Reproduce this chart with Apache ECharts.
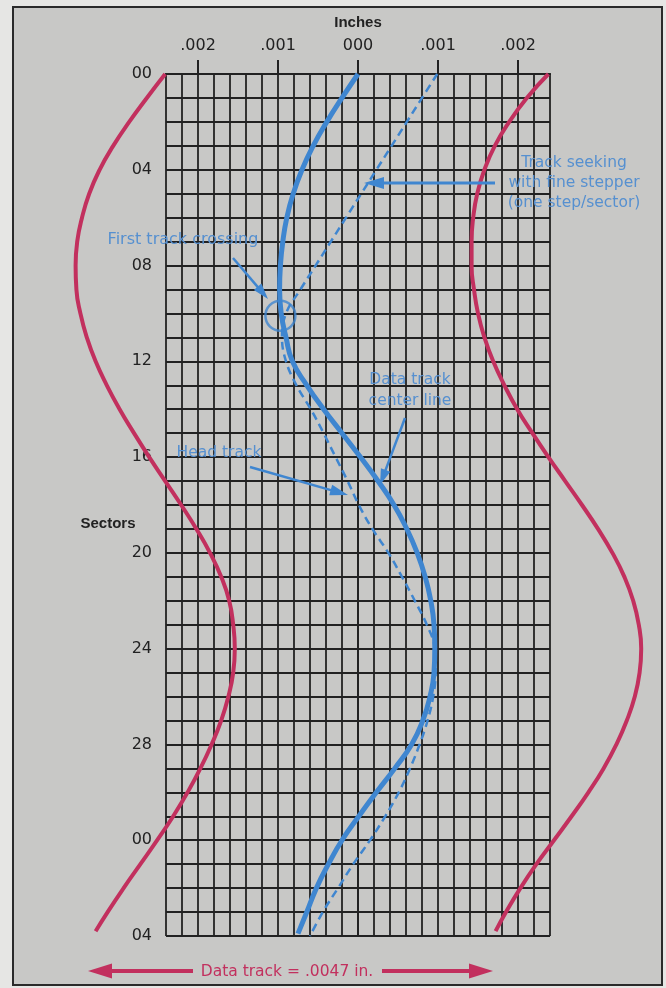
<!DOCTYPE html>
<html><head><meta charset="utf-8">
<script src="https://cdn.jsdelivr.net/npm/echarts@6/dist/echarts.min.js"></script>
<style>
html,body{margin:0;padding:0;background:#e6e6e4;}
#frame{position:absolute;left:12px;top:6px;width:647px;height:976px;border:2px solid #2a2a2a;background:#c8c8c6;}
#c{position:absolute;left:0;top:0;width:666px;height:988px;}
</style>
</head><body><div id="frame"></div><div id="c"></div>
<script>
// Offsets are in units of 0.0001 inch; rows are sectors (32 sectors per revolution).
const edgeSectors = [0,1,2,3,4,5,6,7,8,9,10,11,12,13,14,15,16,17,18,19,20,21,22,23,24,25,26,27,28,29,30,31,32,33,34,35,35.8];
const leftEdge  = [-24.1,-26.4,-28.6,-30.6,-32.3,-33.6,-34.5,-35.1,-35.3,-35.2,-34.7,-33.9,-32.8,-31.4,-29.8,-28.0,-26.1,-24.1,-22.1,-20.2,-18.5,-17.1,-16.1,-15.6,-15.4,-15.6,-16.2,-17.1,-18.3,-19.7,-21.3,-23.1,-25.1,-27.2,-29.3,-31.3,-32.8];
const rightEdge = [23.8,21.1,18.9,17.1,15.8,14.9,14.4,14.2,14.2,14.5,15.0,15.8,16.9,18.3,19.9,21.8,23.8,25.9,28.0,30.0,31.8,33.3,34.4,35.1,35.4,35.2,34.6,33.6,32.3,30.7,28.8,26.7,24.5,22.3,20.3,18.5,17.2];
const trackSectors = [0,1,2,3,4,5,6,7,8,9,10,11,12,13,14,15,16,17,18,19,20,21,22,23,24,25,26,27,28,29,30,31,32,33,34,35,35.9];
const centerLine = [0,-2.0,-3.9,-5.6,-7.0,-8.1,-8.9,-9.4,-9.7,-9.8,-9.6,-9.0,-8.2,-6.4,-4.3,-2.0,0.3,2.5,4.5,6.1,7.4,8.4,9.1,9.5,9.6,9.5,9.0,8.1,6.7,4.6,2.3,0.1,-2.0,-3.7,-5.2,-6.4,-7.5];
const headSectors = [0,1,2,3,4,5,6,7,8,9,10,11,12,13,14,15,16,17,18,19,20,21,22,23,24,25,26,27,28,29,30,31,32,33,34,35,36];
const headTrack = [9.9,8.0,6.1,4.2,2.3,0.4,-1.5,-3.4,-5.3,-7.2,-9.0,-9.5,-9.0,-7.7,-5.9,-4.3,-2.8,-1.3,0.1,1.8,3.8,5.5,7.1,8.6,9.6,9.7,9.4,8.7,7.7,6.5,5.1,3.4,1.5,-0.6,-2.5,-4.4,-6.0];
const crossing = [[-9.7, 10.1]];
const xTickValues = [-20,-10,0,10,20];
const xTickLabels = ['.002','.001','000','.001','.002'];
const yTickValues = [0,4,8,12,16,20,24,28,32,36];
const yTickLabels = ['00','04','08','12','16','20','24','28','00','04'];

const RED = '#c2305e', BLUE = '#3f86d0', BTXT = '#5690d0', INK = '#222';
const FONT = '"Liberation Sans", Arial, sans-serif';
const WFONT = '"DejaVu Sans", sans-serif';
const pairs = (xs, ss) => xs.map((v, i) => [v, ss[i]]);

const chart = echarts.init(document.getElementById('c'), null, {renderer: 'canvas'});
const paper = {left: 166, right: 116, top: 74, bottom: 52, containLabel: false};
const frameLine = {show: true, lineStyle: {color: INK, width: 2}};
const off = {show: false};
chart.setOption({
  backgroundColor: 'transparent',
  animation: false,
  grid: [paper, {left: 54, right: 4, top: 74, bottom: 52, containLabel: false}, paper],
  xAxis: [
    {gridIndex: 0, type: 'value', position: 'top', min: -24, max: 24, interval: 2,
      axisLine: frameLine, axisTick: off, axisLabel: off,
      splitLine: {show: true, lineStyle: {color: INK, width: 1.8}}},
    {gridIndex: 0, type: 'value', position: 'bottom', min: -24, max: 24,
      axisLine: frameLine, axisTick: off, axisLabel: off, splitLine: off},
    {gridIndex: 1, type: 'value', min: -38, max: 38, show: false},
    {gridIndex: 2, type: 'value', position: 'top', min: -24, max: 24,
      name: 'Inches', nameLocation: 'middle', nameGap: 44,
      nameTextStyle: {fontFamily: FONT, fontWeight: 'bold', fontSize: 15, color: INK},
      axisLine: off, splitLine: off,
      axisTick: {show: true, customValues: xTickValues, length: 14, lineStyle: {color: INK, width: 2}},
      axisLabel: {customValues: xTickValues, margin: 20, fontFamily: WFONT, fontSize: 16, color: INK,
        formatter: v => xTickLabels[xTickValues.indexOf(v)]}}
  ],
  yAxis: [
    {gridIndex: 0, type: 'value', position: 'left', inverse: true, min: 0, max: 36, interval: 1,
      axisLine: frameLine, axisTick: off, axisLabel: off,
      splitLine: {show: true, lineStyle: {color: INK, width: 1.8}}},
    {gridIndex: 0, type: 'value', position: 'right', inverse: true, min: 0, max: 36,
      axisLine: frameLine, axisTick: off, axisLabel: off, splitLine: off},
    {gridIndex: 1, type: 'value', inverse: true, min: 0, max: 36, show: false},
    {gridIndex: 2, type: 'value', position: 'left', inverse: true, min: 0, max: 36,
      axisLine: off, splitLine: off,
      axisTick: {show: true, customValues: yTickValues, length: 11, lineStyle: {color: INK, width: 2}},
      axisLabel: {customValues: yTickValues, margin: 14, fontFamily: WFONT, fontSize: 16, color: INK,
        padding: [5, 0, 0, 0],
        formatter: v => yTickLabels[yTickValues.indexOf(v)]}}
  ],
  series: [
    {type: 'line', name: 'left edge', xAxisIndex: 2, yAxisIndex: 2, data: pairs(leftEdge, edgeSectors),
      smooth: 0.5, showSymbol: false, lineStyle: {color: RED, width: 4}, z: 3},
    {type: 'line', name: 'right edge', xAxisIndex: 2, yAxisIndex: 2, data: pairs(rightEdge, edgeSectors),
      smooth: 0.5, showSymbol: false, lineStyle: {color: RED, width: 4}, z: 3},
    {type: 'line', name: 'Data track center line', xAxisIndex: 0, yAxisIndex: 0, data: pairs(centerLine, trackSectors),
      smooth: 0.5, showSymbol: false, lineStyle: {color: BLUE, width: 5}, z: 4},
    {type: 'line', name: 'Head track', xAxisIndex: 0, yAxisIndex: 0, data: pairs(headTrack, headSectors),
      smooth: 0.4, showSymbol: false, lineStyle: {color: BLUE, width: 2.5, type: [8, 5]}, z: 4},
    {type: 'scatter', name: 'First track crossing', xAxisIndex: 0, yAxisIndex: 0, data: crossing,
      symbol: 'circle', symbolSize: 30,
      itemStyle: {color: 'rgba(0,0,0,0)', borderColor: BLUE, borderWidth: 2.5}, z: 5}
  ]
});

function arrow(x1, y1, x2, y2, color, w, hl, hw) {
  const dx = x2 - x1, dy = y2 - y1, L = Math.hypot(dx, dy), ux = dx / L, uy = dy / L;
  const bx = x2 - ux * hl, by = y2 - uy * hl;
  return [
    {type: 'line', shape: {x1, y1, x2: bx + ux * 2, y2: by + uy * 2}, style: {stroke: color, lineWidth: w}, z: 10},
    {type: 'polygon', shape: {points: [[x2, y2], [bx - uy * hw, by + ux * hw], [bx + uy * hw, by - ux * hw]]},
      style: {fill: color}, z: 10}
  ];
}
function txt(t, x, y, fill, size, weight, family) {
  return {type: 'text', z: 10, style: {text: t, x, y, fill, align: 'center', verticalAlign: 'middle',
    font: (weight || 'normal') + ' ' + size + 'px ' + (family || WFONT)}};
}
const g = [];
g.push(txt('Sectors', 108, 524, INK, 15, 'bold', FONT));
g.push(txt('Track seeking', 574, 163, BTXT, 15.5));
g.push(txt('with fine stepper', 574, 183, BTXT, 15.5));
g.push(txt('(one step/sector)', 574, 203, BTXT, 15.5));
g.push(...arrow(495, 183, 364, 183, BLUE, 3, 20, 6));
g.push(txt('First track crossing', 183, 240, BTXT, 16));
g.push(...arrow(233, 258, 268, 299, BLUE, 2.5, 16, 5));
g.push(txt('Data track', 410, 380, BTXT, 15.5));
g.push(txt('center line', 410, 401, BTXT, 15.5));
g.push(...arrow(405, 418, 380, 485, BLUE, 2.5, 16, 5));
g.push(txt('Head track', 219, 453, BTXT, 15.5));
g.push(...arrow(250, 467, 348, 495, BLUE, 2.5, 18, 5.5));
g.push(txt('Data track = .0047 in.', 287, 972, RED, 15.5));
g.push(...arrow(193, 971, 88, 971, RED, 4, 24, 7.5));
g.push(...arrow(382, 971, 493, 971, RED, 4, 24, 7.5));
chart.setOption({graphic: {elements: g}});
</script>
</body></html>
